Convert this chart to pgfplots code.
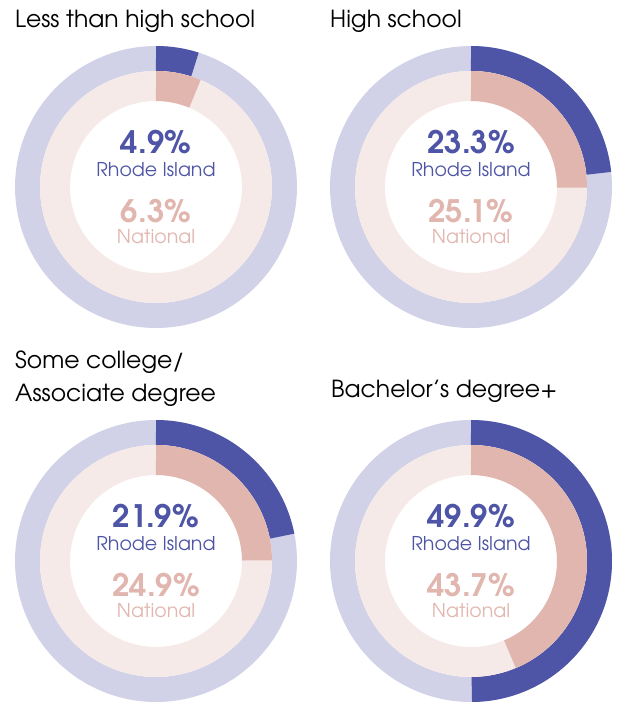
\documentclass[border=0pt]{standalone}
\usepackage{fontspec}
\setmainfont{TeX Gyre Adventor}
\usepackage{pgfplots}
\pgfplotsset{compat=1.18}
\usepackage{pgfplotstable}

\definecolor{riDark}{HTML}{4E55A6}
\definecolor{riLight}{HTML}{D1D1E8}
\definecolor{natDark}{HTML}{E1B6AF}
\definecolor{natLight}{HTML}{F5EAE7}

% Share of adults by educational attainment (%)
\pgfplotstableread{
idx ri nat
0 4.9 6.3
1 23.3 25.1
2 21.9 24.9
3 49.9 43.7
}\edu

\pgfkeys{/pgf/number format/.cd, fixed, precision=1, fixed zerofill, assume math mode=true}

% #1 = table row, #2/#3 = centre of the donut (pt)
\newcommand\donut[3]{%
  \pgfplotstablegetelem{#1}{ri}\of\edu \let\riv\pgfplotsretval
  \pgfplotstablegetelem{#1}{nat}\of\edu \let\natv\pgfplotsretval
  \pgfmathsetmacro\riA{90-3.6*\riv}%
  \pgfmathsetmacro\natA{90-3.6*\natv}%
  \begin{axis}[at={(#2pt,#3pt)}, anchor=center, scale only axis,
      width=282pt, height=282pt,
      xmin=-141, xmax=141, ymin=-141, ymax=141,
      hide axis, clip=false, samples=150]
    % outer ring: Rhode Island
    \addplot[riLight, line width=25pt, domain=0:361] ({128.5*cos(x)},{128.5*sin(x)});
    \addplot[riDark, line width=25pt, domain=\riA:90] ({128.5*cos(x)},{128.5*sin(x)});
    % inner ring: National
    \addplot[natLight, line width=30pt, domain=0:361] ({101*cos(x)},{101*sin(x)});
    \addplot[natDark, line width=30pt, domain=\natA:90] ({101*cos(x)},{101*sin(x)});
    \node[anchor=base, text=riDark, font=\bfseries\fontsize{31}{31}\selectfont]
      at (axis cs:0,34) {\pgfmathprintnumber{\riv}\%};
    \node[anchor=base, text=riDark, font=\fontsize{19}{19}\selectfont]
      at (axis cs:0,11) {Rhode Island};
    \node[anchor=base, text=natDark, font=\bfseries\fontsize{31}{31}\selectfont]
      at (axis cs:0,-35) {\pgfmathprintnumber{\natv}\%};
    \node[anchor=base, text=natDark, font=\fontsize{19}{19}\selectfont]
      at (axis cs:0,-56) {National};
  \end{axis}%
}

\begin{document}
\begin{tikzpicture}
  \path (0pt,0pt) rectangle (622pt,-702pt);
  \donut{0}{156}{-187}
  \donut{1}{471}{-187}
  \donut{2}{156}{-561}
  \donut{3}{471}{-561}
  \begin{scope}[every node/.style={anchor=base west, inner sep=0pt, font=\fontsize{23.5}{23.5}\selectfont}]
    \node at (15pt,-27pt) {Less than high school};
    \node at (330pt,-27pt) {High school};
    \node at (15pt,-368pt) {Some college/};
    \node at (15pt,-401pt) {Associate degree};
    \node at (331pt,-397pt) {Bachelor’s degree+};
  \end{scope}
\end{tikzpicture}
\end{document}
